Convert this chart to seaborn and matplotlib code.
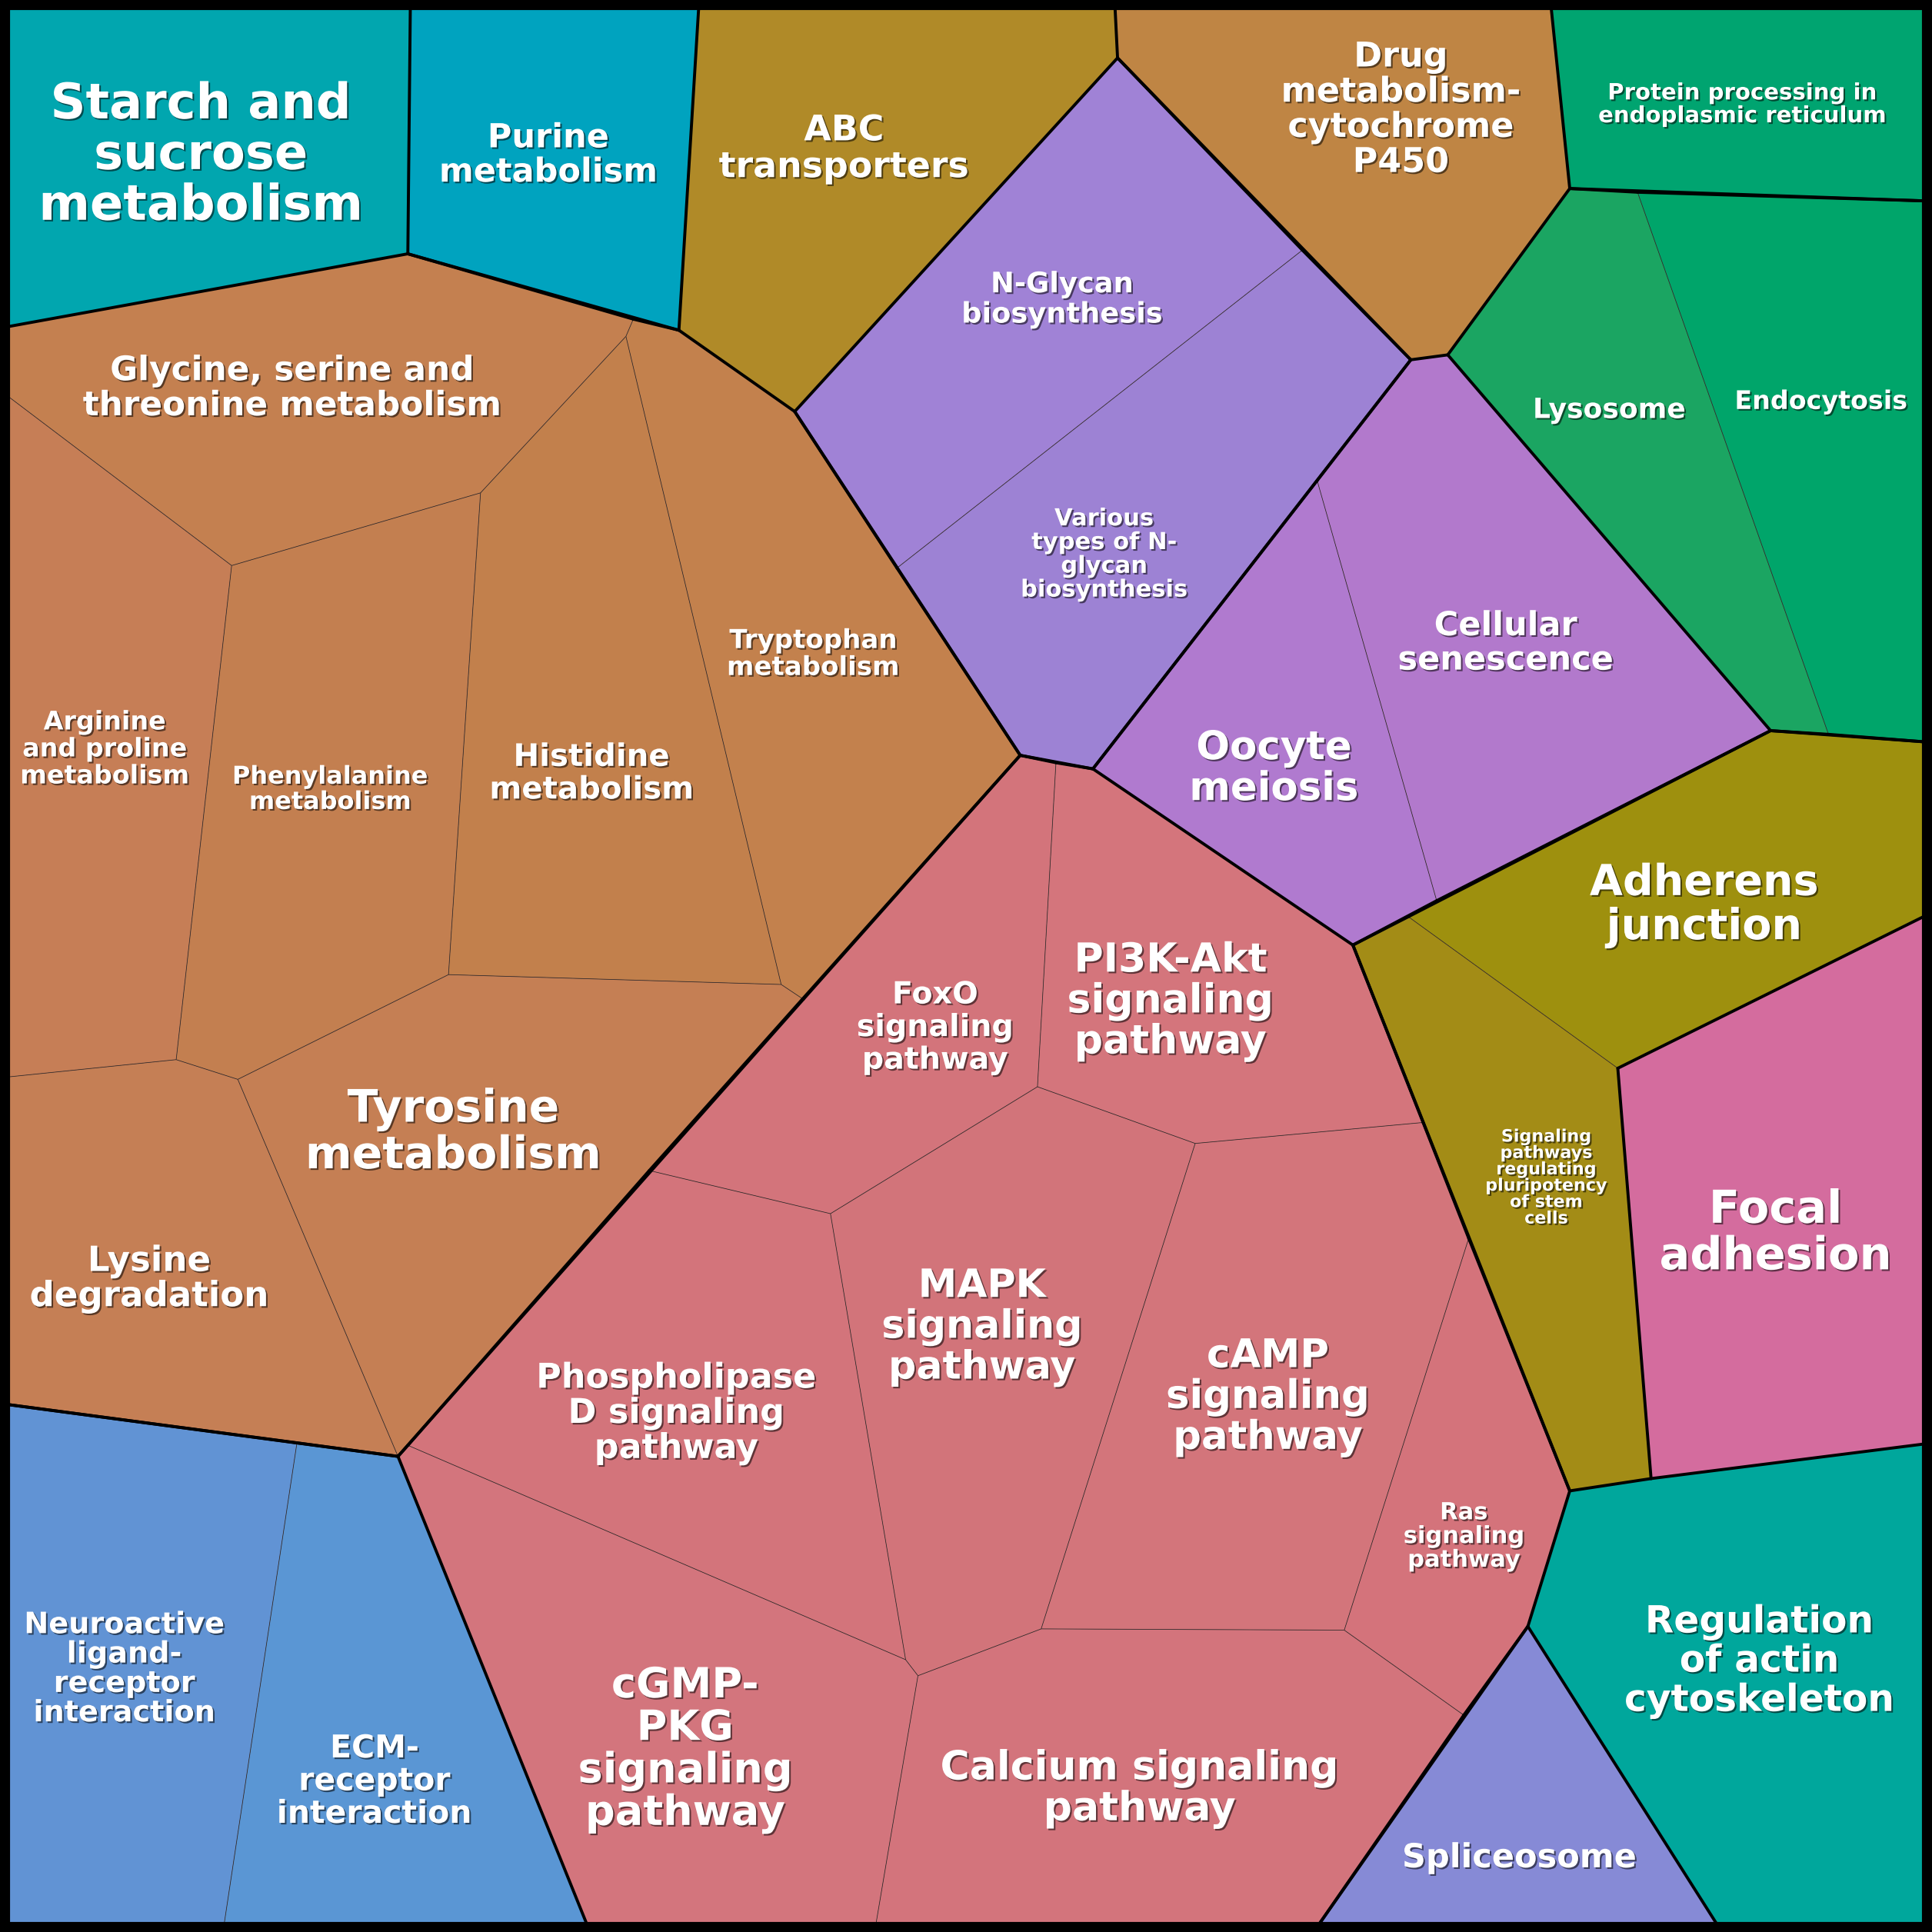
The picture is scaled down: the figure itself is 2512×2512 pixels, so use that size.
import numpy as np
import seaborn as sns
import matplotlib.pyplot as plt
import matplotlib.patheffects as pe
from matplotlib.collections import LineCollection

# pathway cells of the voronoi treemap, vertices (canvas 0..1568, y down)
pathways = ['Starch and\nsucrose\nmetabolism', 'Purine\nmetabolism', 'ABC\ntransporters',
            'Drug\nmetabolism-\ncytochrome\nP450', 'Protein processing in\nendoplasmic reticulum',
            'Lysosome', 'Endocytosis', 'N-Glycan\nbiosynthesis',
            'Various\ntypes of N-\nglycan\nbiosynthesis', 'Oocyte\nmeiosis', 'Cellular\nsenescence',
            'Adherens\njunction', 'Signaling\npathways\nregulating\npluripotency\nof stem\ncells',
            'Focal\nadhesion', 'Regulation\nof actin\ncytoskeleton', 'Spliceosome',
            'FoxO\nsignaling\npathway', 'PI3K-Akt\nsignaling\npathway', 'MAPK\nsignaling\npathway',
            'cAMP\nsignaling\npathway', 'Ras\nsignaling\npathway', 'Calcium signaling\npathway',
            'Phospholipase\nD signaling\npathway', 'cGMP-\nPKG\nsignaling\npathway',
            'Neuroactive\nligand-\nreceptor\ninteraction', 'ECM-\nreceptor\ninteraction',
            'Glycine, serine and\nthreonine metabolism', 'Arginine\nand proline\nmetabolism',
            'Phenylalanine\nmetabolism', 'Histidine\nmetabolism', 'Tryptophan\nmetabolism',
            'Tyrosine\nmetabolism', 'Lysine\ndegradation']

groups = ['starch', 'purine', 'abc', 'drug', 'protein', 'lyso', 'lyso', 'glycan', 'glycan',
          'oocyte', 'oocyte', 'adherens', 'adherens', 'focal', 'actin', 'splice',
          'signal', 'signal', 'signal', 'signal', 'signal', 'signal', 'signal', 'signal',
          'neuro', 'neuro', 'amino', 'amino', 'amino', 'amino', 'amino', 'amino', 'amino']

cells = [
    [(7, 7), (333, 7), (331, 206), (7, 265)],
    [(333, 7), (567, 7), (551, 268), (331, 206)],
    [(567, 7), (905, 7), (907, 47), (645, 334), (551, 268)],
    [(905, 7), (1259, 7), (1274, 153), (1175, 288), (1145, 292), (907, 47)],
    [(1259, 7), (1561, 7), (1561, 163), (1274, 153)],
    [(1274, 153), (1329, 156), (1484, 596), (1437, 593), (1175, 288)],
    [(1329, 156), (1561, 163), (1561, 602), (1484, 596)],
    [(907, 47), (1057, 203), (728, 461), (645, 334)],
    [(1057, 203), (1145, 292), (887, 624), (828, 613), (728, 461)],
    [(887, 624), (1069, 390), (1166, 731), (1098, 767)],
    [(1069, 390), (1145, 292), (1175, 288), (1437, 593), (1166, 731)],
    [(1437, 593), (1561, 602), (1561, 744), (1313, 867), (1143, 744)],
    [(1098, 767), (1143, 744), (1313, 867), (1340, 1200), (1274, 1210)],
    [(1313, 867), (1561, 744), (1561, 1172), (1340, 1200)],
    [(1274, 1210), (1340, 1200), (1561, 1172), (1561, 1561), (1393, 1561), (1240, 1320)],
    [(1240, 1320), (1393, 1561), (1071, 1561)],
    [(828, 613), (857, 619), (842, 882), (674, 985), (527, 950)],
    [(857, 619), (887, 624), (1098, 767), (1155, 911), (970, 928), (842, 882)],
    [(842, 882), (970, 928), (845, 1322), (745, 1360), (735, 1347), (674, 985)],
    [(970, 928), (1155, 911), (1192, 1005), (1091, 1323), (845, 1322)],
    [(1192, 1005), (1274, 1210), (1240, 1320), (1188, 1392), (1091, 1323)],
    [(845, 1322), (1091, 1323), (1188, 1392), (1071, 1561), (711, 1561), (745, 1360)],
    [(527, 950), (674, 985), (735, 1347), (331, 1173)],
    [(331, 1173), (735, 1347), (745, 1360), (711, 1561), (476, 1561), (323, 1182)],
    [(7, 1140), (241, 1171), (182, 1561), (7, 1561)],
    [(241, 1171), (323, 1182), (476, 1561), (182, 1561)],
    [(7, 265), (331, 206), (514, 259), (508, 273), (390, 400), (188, 459), (7, 322)],
    [(7, 322), (188, 459), (143, 860), (7, 874)],
    [(188, 459), (390, 400), (364, 791), (193, 876), (143, 860)],
    [(508, 273), (634, 799), (364, 791), (390, 400)],
    [(514, 259), (551, 268), (645, 334), (828, 613), (652, 811), (634, 799), (508, 273)],
    [(364, 791), (634, 799), (652, 811), (323, 1182), (193, 876)],
    [(7, 874), (143, 860), (193, 876), (323, 1182), (7, 1140)],
]

cell_colors = ['#01A6AF', '#00A3BF', '#B08A28', '#BF8544', '#00A470', '#1BA562', '#00A56A',
               '#A082D6', '#9D82D4', '#B07ACF', '#B279CC', '#9E900E', '#A38C16', '#D46C9E',
               '#00A79C', '#868AD6',
               '#D3747B', '#D4757C', '#D2747A', '#D3757B', '#D4737B', '#D3747C', '#D3747B', '#D3757D',
               '#6193D4', '#5A96D4',
               '#C48050', '#C67E56', '#C37F50', '#C2804C', '#C3814D', '#C57F54', '#C57F55']

# label layout
label_xy = [(163, 126), (445, 126), (685, 121), (1137, 89), (1414, 85), (1306, 333), (1478, 326),
            (862, 243), (896, 450), (1034, 624), (1222, 522), (1383, 735), (1255, 956),
            (1441, 1001), (1428, 1348), (1233, 1508), (759, 834), (950, 813), (797, 1077),
            (1029, 1134), (1188, 1247), (925, 1452), (549, 1147), (556, 1420), (101, 1355),
            (304, 1446), (237, 315), (85, 608), (268, 641), (480, 628), (660, 531), (368, 919),
            (121, 1038)]
label_size = [46, 31, 33, 32, 21, 26, 24, 26.5, 22, 37, 31, 40, 16, 42.5, 35, 31, 28.5, 37.5,
              36.5, 37, 22, 37.5, 32, 39, 27.5, 29.5, 31.5, 24, 23, 29, 24.5, 42, 32.5]

sns.set_theme(style='white')
plt.rcParams['font.family'] = ['DejaVu Sans']

fig = plt.figure(figsize=(25.12, 25.12), dpi=100, facecolor='black')
ax = fig.add_axes([0, 0, 1, 1])
ax.set_xlim(0, 1568)
ax.set_ylim(1568, 0)
ax.axis('off')

for verts, col in zip(cells, cell_colors):
    xs, ys = zip(*verts)
    ax.fill(xs, ys, color=col, lw=0, zorder=1)

# edges shared by two cells of the same group are thin, the rest are group borders
edge_groups = {}
for verts, grp in zip(cells, groups):
    for a, b in zip(verts, verts[1:] + verts[:1]):
        key = frozenset([a, b])
        edge_groups.setdefault(key, []).append(grp)

thin, thick = [], []
for key, grps in edge_groups.items():
    seg = list(key)
    if len(grps) > 1 and len(set(grps)) == 1:
        thin.append(seg)
    else:
        thick.append(seg)

ax.add_collection(LineCollection(thin, colors='#3a3030', linewidths=0.6, zorder=2))
ax.add_collection(LineCollection(thick, colors='black', linewidths=2.8, zorder=3,
                                 capstyle='round', joinstyle='round'))

shadow = [pe.withSimplePatchShadow(offset=(1.5, -1.5), shadow_rgbFace='black', alpha=0.55)]
for name, (x, y), fs in zip(pathways, label_xy, label_size):
    ax.text(x, y, name, ha='center', va='center', multialignment='center',
            fontsize=fs, fontweight='bold', color='white', linespacing=1.08,
            path_effects=shadow, zorder=4)

# outer frame
ax.plot([7, 1561, 1561, 7, 7], [7, 7, 1561, 1561, 7], color='black', lw=3, zorder=3)

fig.savefig('out.png', dpi=100, facecolor='black')
